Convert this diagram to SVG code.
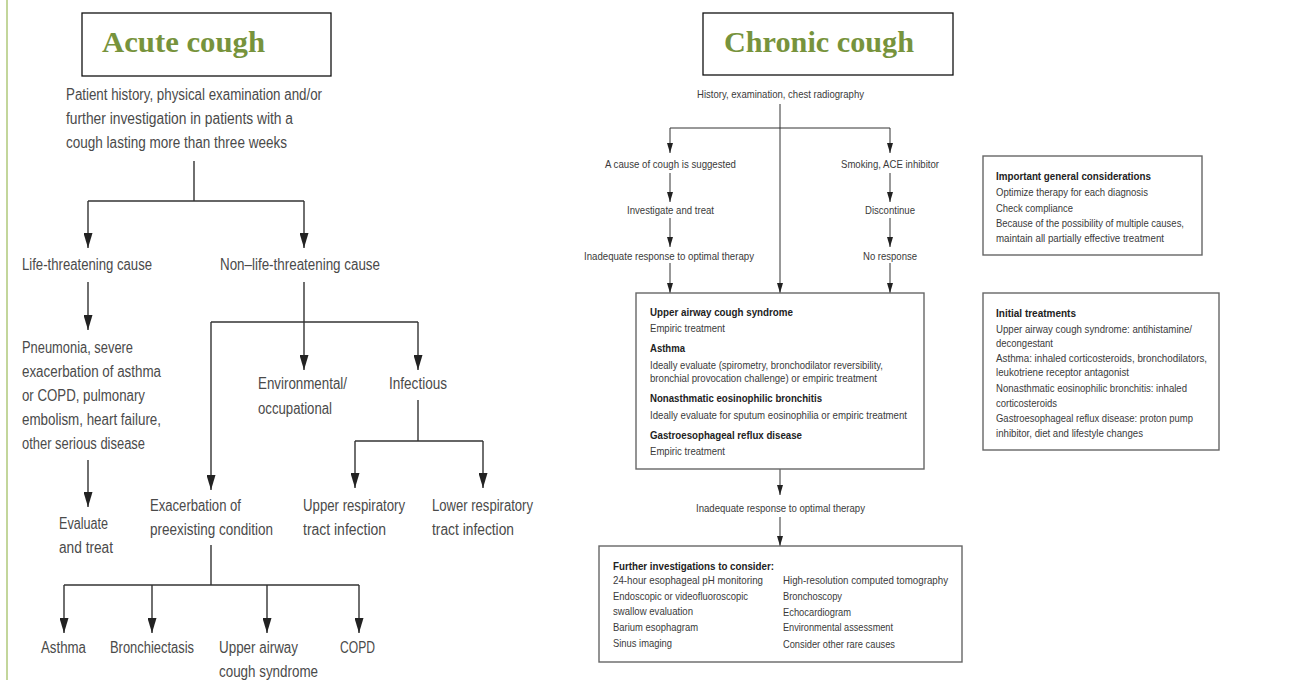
<svg xmlns="http://www.w3.org/2000/svg" width="1310" height="680" viewBox="0 0 1310 680">
<defs>
<style>
.title{font-family:"Liberation Serif",serif;font-weight:bold;font-size:30px;fill:#77933c}
.tbox{fill:#fff;stroke:#111;stroke-width:1.3}
.t{font-family:"Liberation Sans",Arial,sans-serif;font-size:16px;fill:#4a4a4a}
.s{font-family:"Liberation Sans",Arial,sans-serif;font-size:10.5px;fill:#3a3a3a}
.b{font-family:"Liberation Sans",Arial,sans-serif;font-size:10.5px;font-weight:bold;fill:#222}
.box{fill:#fff;stroke:#666;stroke-width:1.4}
.cl{fill:none;stroke:#333;stroke-width:1.4}
.cr{fill:none;stroke:#333;stroke-width:1}
</style>
<marker id="aL" markerUnits="userSpaceOnUse" markerWidth="15" markerHeight="9" refX="15" refY="4.5" orient="auto"><path d="M0,0 L15,4.5 L0,9 z" fill="#222"/></marker>
<marker id="aR" markerUnits="userSpaceOnUse" markerWidth="10" markerHeight="6" refX="10" refY="3" orient="auto"><path d="M0,0 L10,3 L0,6 z" fill="#222"/></marker>
</defs>
<rect width="1310" height="680" fill="#fff"/>
<line x1="7" y1="0" x2="7" y2="680" stroke="#c3d69b" stroke-width="2"/>

<g id="connectors">
<g class="cl">
<path d="M194,161 V201"/>
<path d="M88,201 H304"/>
<path d="M88,201 V248" marker-end="url(#aL)"/>
<path d="M304,201 V248" marker-end="url(#aL)"/>
<path d="M88,282 V330" marker-end="url(#aL)"/>
<path d="M304,282 V370" marker-end="url(#aL)"/>
<path d="M211,322 H418"/>
<path d="M418,322 V370" marker-end="url(#aL)"/>
<path d="M211,322 V490" marker-end="url(#aL)"/>
<path d="M418,400 V441"/>
<path d="M355,441 H483"/>
<path d="M355,441 V488" marker-end="url(#aL)"/>
<path d="M483,441 V488" marker-end="url(#aL)"/>
<path d="M88,460 V507" marker-end="url(#aL)"/>
<path d="M211,545 V585"/>
<path d="M64,585 H359"/>
<path d="M64,585 V633" marker-end="url(#aL)"/>
<path d="M152,585 V633" marker-end="url(#aL)"/>
<path d="M267,585 V633" marker-end="url(#aL)"/>
<path d="M359,585 V633" marker-end="url(#aL)"/>
</g>
<g class="cr">
<path d="M780,104 V293" marker-end="url(#aR)"/>
<path d="M670,128 H890"/>
<path d="M670,128 V153" marker-end="url(#aR)"/>
<path d="M890,128 V153" marker-end="url(#aR)"/>
<path d="M670,173 V202" marker-end="url(#aR)"/>
<path d="M890,173 V202" marker-end="url(#aR)"/>
<path d="M670,218 V247" marker-end="url(#aR)"/>
<path d="M890,218 V247" marker-end="url(#aR)"/>
<path d="M670,263 V293" marker-end="url(#aR)"/>
<path d="M890,263 V293" marker-end="url(#aR)"/>
<path d="M780,469 V495" marker-end="url(#aR)"/>
<path d="M780,517 V546" marker-end="url(#aR)"/>
</g>
</g>

<g id="acute-title">
<rect class="tbox" x="82" y="13" width="249" height="63"/>
<text class="title" x="102" y="52" textLength="163" lengthAdjust="spacingAndGlyphs">Acute cough</text>
</g>
<g id="acute-start">
<text class="t" x="66" y="100" textLength="256" lengthAdjust="spacingAndGlyphs">Patient history, physical examination and/or</text>
<text class="t" x="66" y="124" textLength="227" lengthAdjust="spacingAndGlyphs">further investigation in patients with a</text>
<text class="t" x="66" y="148" textLength="221" lengthAdjust="spacingAndGlyphs">cough lasting more than three weeks</text>
</g>
<g id="life-threatening">
<text class="t" x="22" y="270" textLength="130" lengthAdjust="spacingAndGlyphs">Life-threatening cause</text>
</g>
<g id="non-life-threatening">
<text class="t" x="220" y="270" textLength="160" lengthAdjust="spacingAndGlyphs">Non–life-threatening cause</text>
</g>
<g id="serious-disease">
<text class="t" x="22" y="353" textLength="111" lengthAdjust="spacingAndGlyphs">Pneumonia, severe</text>
<text class="t" x="22" y="377" textLength="139" lengthAdjust="spacingAndGlyphs">exacerbation of asthma</text>
<text class="t" x="22" y="401" textLength="123" lengthAdjust="spacingAndGlyphs">or COPD, pulmonary</text>
<text class="t" x="22" y="425" textLength="139" lengthAdjust="spacingAndGlyphs">embolism, heart failure,</text>
<text class="t" x="22" y="449" textLength="123" lengthAdjust="spacingAndGlyphs">other serious disease</text>
</g>
<g id="environmental">
<text class="t" x="258" y="389" textLength="89" lengthAdjust="spacingAndGlyphs">Environmental/</text>
<text class="t" x="258" y="414" textLength="74" lengthAdjust="spacingAndGlyphs">occupational</text>
</g>
<g id="infectious">
<text class="t" x="389" y="389" textLength="58" lengthAdjust="spacingAndGlyphs">Infectious</text>
</g>
<g id="evaluate">
<text class="t" x="59" y="529" textLength="49" lengthAdjust="spacingAndGlyphs">Evaluate</text>
<text class="t" x="59" y="553" textLength="54" lengthAdjust="spacingAndGlyphs">and treat</text>
</g>
<g id="exacerbation">
<text class="t" x="150" y="511" textLength="91" lengthAdjust="spacingAndGlyphs">Exacerbation of</text>
<text class="t" x="150" y="535" textLength="123" lengthAdjust="spacingAndGlyphs">preexisting condition</text>
</g>
<g id="urti">
<text class="t" x="303" y="511" textLength="102" lengthAdjust="spacingAndGlyphs">Upper respiratory</text>
<text class="t" x="303" y="535" textLength="83" lengthAdjust="spacingAndGlyphs">tract infection</text>
</g>
<g id="lrti">
<text class="t" x="432" y="511" textLength="101" lengthAdjust="spacingAndGlyphs">Lower respiratory</text>
<text class="t" x="432" y="535" textLength="82" lengthAdjust="spacingAndGlyphs">tract infection</text>
</g>
<g id="asthma">
<text class="t" x="41" y="653" textLength="45" lengthAdjust="spacingAndGlyphs">Asthma</text>
</g>
<g id="bronchiectasis">
<text class="t" x="110" y="653" textLength="84" lengthAdjust="spacingAndGlyphs">Bronchiectasis</text>
</g>
<g id="uacs">
<text class="t" x="219" y="653" textLength="79" lengthAdjust="spacingAndGlyphs">Upper airway</text>
<text class="t" x="219" y="677" textLength="99" lengthAdjust="spacingAndGlyphs">cough syndrome</text>
</g>
<g id="copd">
<text class="t" x="340" y="653" textLength="35" lengthAdjust="spacingAndGlyphs">COPD</text>
</g>

<g id="chronic-title">
<rect class="tbox" x="703" y="13" width="250" height="62"/>
<text class="title" x="724" y="52" textLength="190" lengthAdjust="spacingAndGlyphs">Chronic cough</text>
</g>
<g id="chronic-start">
<text class="s" x="697" y="97.5" textLength="167" lengthAdjust="spacingAndGlyphs">History, examination, chest radiography</text>
</g>
<g id="cause-suggested">
<text class="s" x="605" y="167.5" textLength="131" lengthAdjust="spacingAndGlyphs">A cause of cough is suggested</text>
</g>
<g id="investigate">
<text class="s" x="627" y="213.5" textLength="87" lengthAdjust="spacingAndGlyphs">Investigate and treat</text>
</g>
<g id="inadequate-1">
<text class="s" x="584" y="259.5" textLength="170" lengthAdjust="spacingAndGlyphs">Inadequate response to optimal therapy</text>
</g>
<g id="smoking">
<text class="s" x="841" y="167.5" textLength="98" lengthAdjust="spacingAndGlyphs">Smoking, ACE inhibitor</text>
</g>
<g id="discontinue">
<text class="s" x="865" y="213.5" textLength="50" lengthAdjust="spacingAndGlyphs">Discontinue</text>
</g>
<g id="no-response">
<text class="s" x="863" y="259.5" textLength="54" lengthAdjust="spacingAndGlyphs">No response</text>
</g>
<g id="diagnoses">
<rect class="box" x="636" y="293" width="288" height="176"/>
<text class="b" x="650" y="315.5" textLength="143" lengthAdjust="spacingAndGlyphs">Upper airway cough syndrome</text>
<text class="s" x="650" y="331.5" textLength="75" lengthAdjust="spacingAndGlyphs">Empiric treatment</text>
<text class="b" x="650" y="351.5" textLength="35" lengthAdjust="spacingAndGlyphs">Asthma</text>
<text class="s" x="650" y="368.5" textLength="233" lengthAdjust="spacingAndGlyphs">Ideally evaluate (spirometry, bronchodilator reversibility,</text>
<text class="s" x="650" y="381.5" textLength="227" lengthAdjust="spacingAndGlyphs">bronchial provocation challenge) or empiric treatment</text>
<text class="b" x="650" y="401.5" textLength="172" lengthAdjust="spacingAndGlyphs">Nonasthmatic eosinophilic bronchitis</text>
<text class="s" x="650" y="418.5" textLength="257" lengthAdjust="spacingAndGlyphs">Ideally evaluate for sputum eosinophilia or empiric treatment</text>
<text class="b" x="650" y="438.5" textLength="152" lengthAdjust="spacingAndGlyphs">Gastroesophageal reflux disease</text>
<text class="s" x="650" y="454.5" textLength="75" lengthAdjust="spacingAndGlyphs">Empiric treatment</text>
</g>
<g id="inadequate-2">
<text class="s" x="696" y="511.5" textLength="169" lengthAdjust="spacingAndGlyphs">Inadequate response to optimal therapy</text>
</g>
<g id="further-investigations">
<rect class="box" x="599" y="546" width="363" height="116"/>
<text class="b" x="613" y="569.5" textLength="161" lengthAdjust="spacingAndGlyphs">Further investigations to consider:</text>
<text class="s" x="613" y="583.5" textLength="150" lengthAdjust="spacingAndGlyphs">24-hour esophageal pH monitoring</text>
<text class="s" x="613" y="600" textLength="135" lengthAdjust="spacingAndGlyphs">Endoscopic or videofluoroscopic</text>
<text class="s" x="613" y="614.5" textLength="80" lengthAdjust="spacingAndGlyphs">swallow evaluation</text>
<text class="s" x="613" y="630.5" textLength="85" lengthAdjust="spacingAndGlyphs">Barium esophagram</text>
<text class="s" x="613" y="646.5" textLength="59" lengthAdjust="spacingAndGlyphs">Sinus imaging</text>
<text class="s" x="783" y="583.5" textLength="165" lengthAdjust="spacingAndGlyphs">High-resolution computed tomography</text>
<text class="s" x="783" y="600" textLength="59" lengthAdjust="spacingAndGlyphs">Bronchoscopy</text>
<text class="s" x="783" y="615.5" textLength="68" lengthAdjust="spacingAndGlyphs">Echocardiogram</text>
<text class="s" x="783" y="631" textLength="110" lengthAdjust="spacingAndGlyphs">Environmental assessment</text>
<text class="s" x="783" y="647.5" textLength="112" lengthAdjust="spacingAndGlyphs">Consider other rare causes</text>
</g>
<g id="general-considerations">
<rect class="box" x="983" y="156" width="219" height="99"/>
<text class="b" x="996" y="179.5" textLength="155" lengthAdjust="spacingAndGlyphs">Important general considerations</text>
<text class="s" x="996" y="195.5" textLength="152" lengthAdjust="spacingAndGlyphs">Optimize therapy for each diagnosis</text>
<text class="s" x="996" y="211.5" textLength="77" lengthAdjust="spacingAndGlyphs">Check compliance</text>
<text class="s" x="996" y="226.5" textLength="188" lengthAdjust="spacingAndGlyphs">Because of the possibility of multiple causes,</text>
<text class="s" x="996" y="241.5" textLength="168" lengthAdjust="spacingAndGlyphs">maintain all partially effective treatment</text>
</g>
<g id="initial-treatments">
<rect class="box" x="983" y="293" width="236" height="157"/>
<text class="b" x="996" y="316.5" textLength="80" lengthAdjust="spacingAndGlyphs">Initial treatments</text>
<text class="s" x="996" y="332.5" textLength="196" lengthAdjust="spacingAndGlyphs">Upper airway cough syndrome: antihistamine/</text>
<text class="s" x="996" y="346.5" textLength="57" lengthAdjust="spacingAndGlyphs">decongestant</text>
<text class="s" x="996" y="361.5" textLength="211" lengthAdjust="spacingAndGlyphs">Asthma: inhaled corticosteroids, bronchodilators,</text>
<text class="s" x="996" y="375.5" textLength="133" lengthAdjust="spacingAndGlyphs">leukotriene receptor antagonist</text>
<text class="s" x="996" y="391.5" textLength="191" lengthAdjust="spacingAndGlyphs">Nonasthmatic eosinophilic bronchitis: inhaled</text>
<text class="s" x="996" y="406.5" textLength="61" lengthAdjust="spacingAndGlyphs">corticosteroids</text>
<text class="s" x="996" y="421.5" textLength="197" lengthAdjust="spacingAndGlyphs">Gastroesophageal reflux disease: proton pump</text>
<text class="s" x="996" y="436.5" textLength="147" lengthAdjust="spacingAndGlyphs">inhibitor, diet and lifestyle changes</text>
</g>
</svg>
